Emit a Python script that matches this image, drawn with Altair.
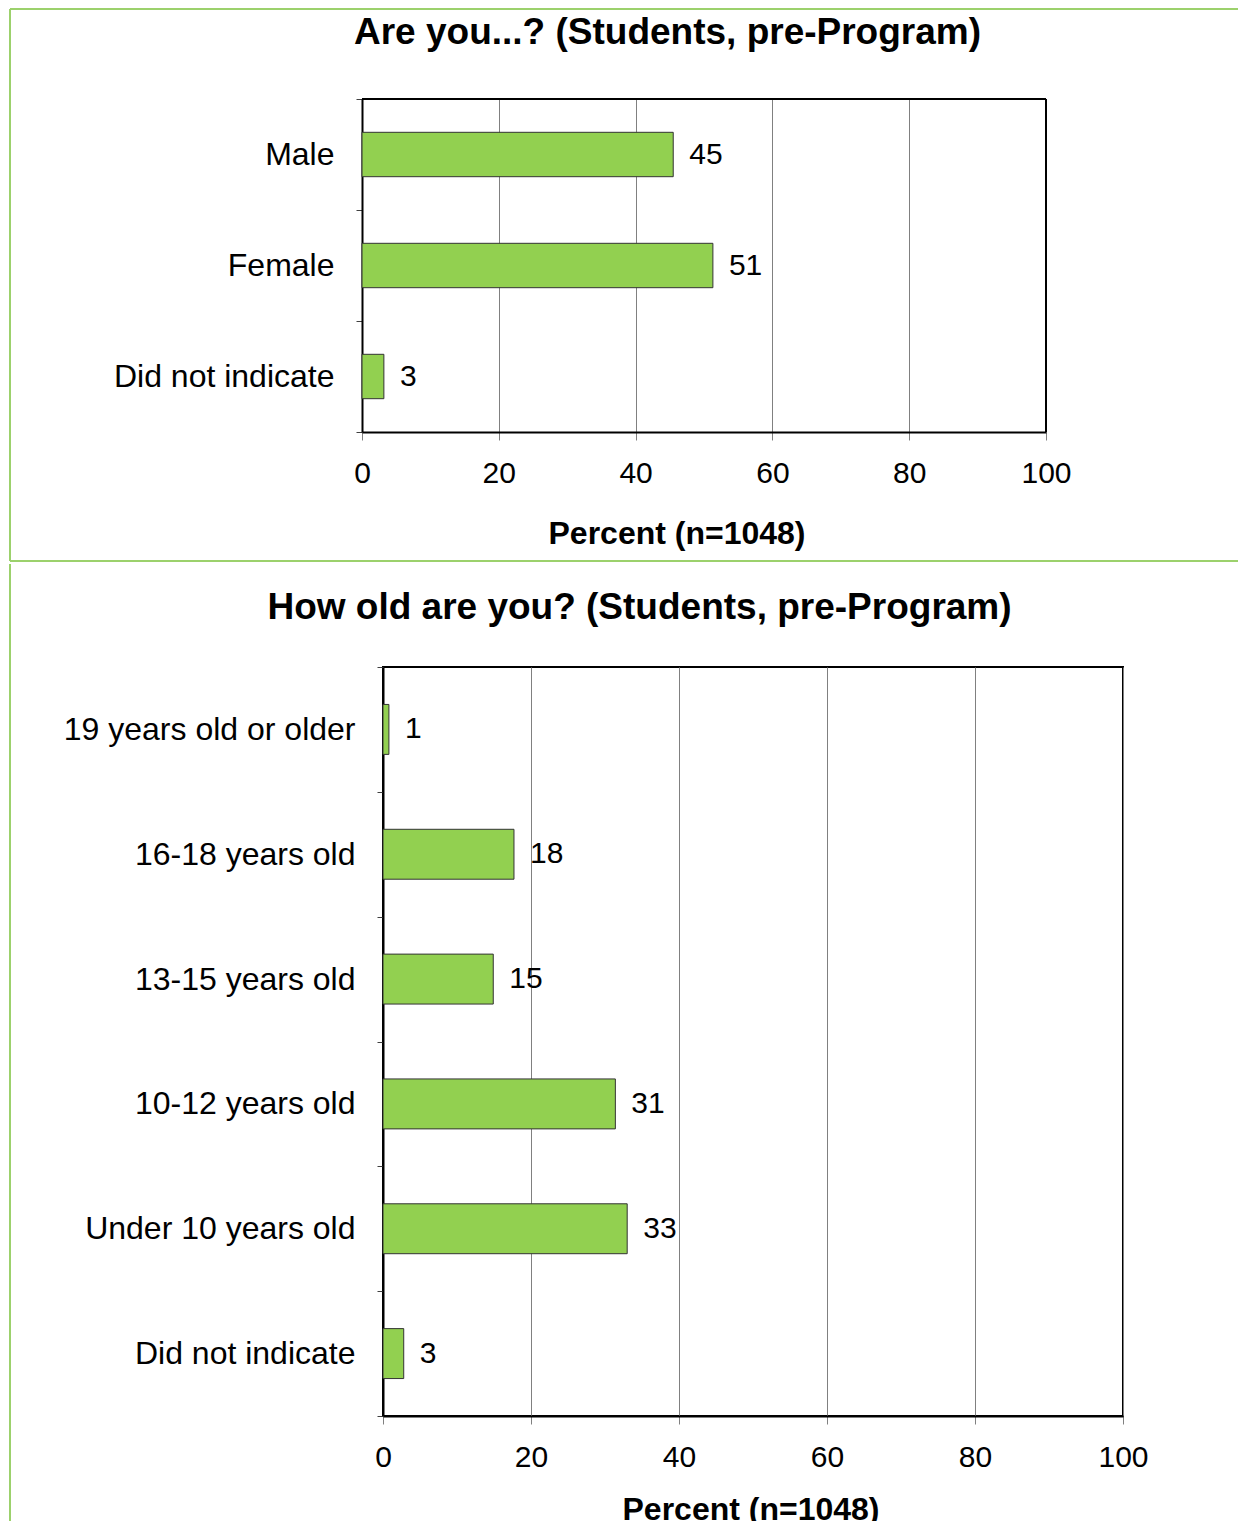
import altair as alt
import pandas as pd

# ---- data ----
gender_cats = ["Male", "Female", "Did not indicate"]
gender_vals = [45.5, 51.3, 3.2]
gender_labels = ["45", "51", "3"]

age_cats = ["19 years old or older", "16-18 years old", "13-15 years old",
            "10-12 years old", "Under 10 years old", "Did not indicate"]
age_vals = [0.8, 17.7, 14.9, 31.4, 33.0, 2.8]
age_labels = ["1", "18", "15", "31", "33", "3"]

x_ticks = [0, 20, 40, 60, 80, 100]
axis_title = "Percent (n=1048)"
title_top = "Are you...? (Students, pre-Program)"
title_bottom = "How old are you? (Students, pre-Program)"

FONT = "Liberation Sans"
BAR = "#92d050"
FRAME = "#9cd16c"


def deco_rule(color, **enc):
    return alt.Chart(alt.Data(values=[{}])).mark_rule(
        color=color, strokeWidth=2
    ).encode(**enc)


def panel(cats, vals, labels, width, height, title, tx, ty,
          ax_tx, ax_ty, frames, shift=0, boxed=True):
    df = pd.DataFrame({"cat": cats, "value": vals, "label": labels})
    base = alt.Chart(df)
    scale_kw = dict(domain=[0, 100], nice=False)
    if shift:
        scale_kw["range"] = [-shift, width]
    x = alt.X(
        "value:Q",
        scale=alt.Scale(**scale_kw),
        axis=alt.Axis(
            values=x_ticks, title=axis_title, grid=True,
            gridColor="#808080", gridWidth=1, gridOpacity=1,
            tickSize=8, tickColor="#808080", tickWidth=1,
            domainColor="black", domainWidth=2,
            labelFont=FONT, labelFontSize=30, labelColor="black",
            labelBaseline="alphabetic", labelPadding=42,
            labelFlush=False, labelOverlap=False,
            titleFont=FONT, titleFontSize=32, titleFontWeight="bold",
            titleColor="black", titleX=ax_tx, titleY=ax_ty,
            titleAlign="center", titleBaseline="alphabetic",
        ),
    )
    y = alt.Y(
        "cat:N", sort=cats,
        scale=alt.Scale(paddingInner=0, paddingOuter=0),
        axis=alt.Axis(
            title=None, tickBand="extent", tickSize=6, tickColor="#404040",
            tickWidth=1, domainColor="black", domainWidth=2,
            labelFont=FONT, labelFontSize=32, labelColor="black",
            labelPadding=22, labelLimit=500, offset=shift,
        ),
    )
    bars = base.mark_bar(
        color=BAR, stroke="#333333", strokeWidth=1,
        height=alt.RelativeBandSize(0.4),
    ).encode(x=x, y=y)
    text = base.mark_text(
        align="left", baseline="middle", dx=16, font=FONT, fontSize=30,
        color="black"
    ).encode(x="value:Q", y=alt.Y("cat:N", sort=cats), text="label:N")
    ttl = alt.Chart(alt.Data(values=[{}])).mark_text(
        text=title, font=FONT, fontSize=37, fontWeight="bold",
        align="center", baseline="alphabetic", color="black"
    ).encode(x=alt.value(tx), y=alt.value(ty))
    layers = [bars, text, ttl]
    if not boxed:
        # top and right edges of the plot frame (left/bottom are the axes)
        layers.append(deco_rule("black", x=alt.value(-shift),
                                x2=alt.value(width), y=alt.value(0)))
        layers.append(deco_rule("black", x=alt.value(width),
                                y=alt.value(0), y2=alt.value(height)))
    layers.extend(frames)
    view = alt.ViewBackground(stroke="black", strokeWidth=2) if boxed else \
        alt.ViewBackground(strokeOpacity=0)
    return alt.layer(*layers).properties(
        width=width, height=height, view=view
    )


top = panel(
    gender_cats, gender_vals, gender_labels, 663, 333, title_top,
    284.5, -55, 293.5, 111,
    [
        deco_rule(FRAME, x=alt.value(-373), x2=alt.value(855), y=alt.value(-90)),
        deco_rule(FRAME, x=alt.value(-373), y=alt.value(-90), y2=alt.value(462)),
        deco_rule(FRAME, x=alt.value(-373), x2=alt.value(855), y=alt.value(462)),
    ],
    shift=21, boxed=False,
)

bottom = panel(
    age_cats, age_vals, age_labels, 740, 749, title_bottom,
    256.5, -48, 367.5, 103,
    [
        deco_rule(FRAME, x=alt.value(-373), y=alt.value(-103), y2=alt.value(900)),
    ],
)

chart = alt.vconcat(top, bottom, spacing=0).properties(
    padding=0, background="white"
)

chart.save("out.html", embed_options={"renderer": "svg", "actions": False})
